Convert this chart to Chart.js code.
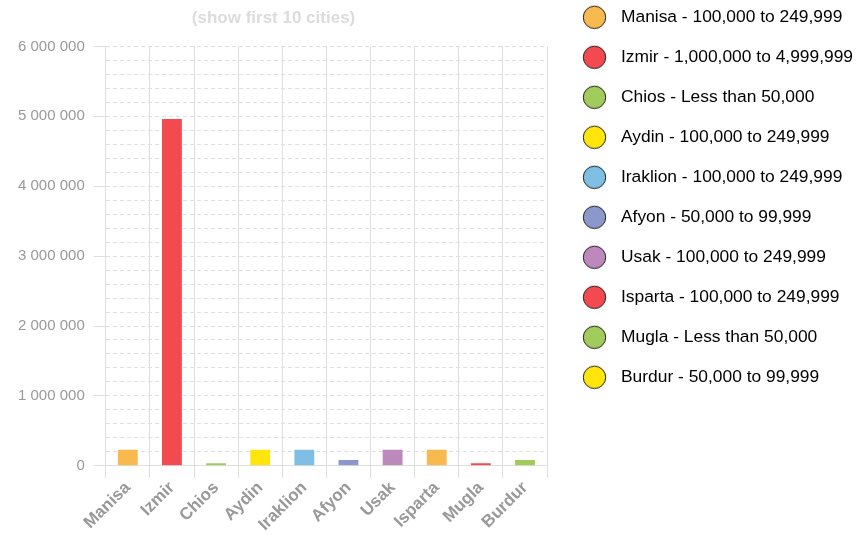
<!DOCTYPE html>
<html>
<head>
<meta charset="utf-8">
<script src="https://cdn.jsdelivr.net/npm/chart.js@4.4.0/dist/chart.umd.min.js"></script>
<style>
    html, body { margin: 0; padding: 0; background: #fff; }
    #wrap { width: 865px; height: 535px; }
</style>
</head>
<body>
<div id="wrap"><canvas id="myChart"></canvas></div>
<script>
// data
const cities = ['Manisa', 'Izmir', 'Chios', 'Aydin', 'Iraklion', 'Afyon', 'Usak', 'Isparta', 'Mugla', 'Burdur'];
const population = [230000, 4960000, 35000, 230000, 230000, 85000, 230000, 230000, 35000, 85000];
const sizeClass = ['100,000 to 249,999', '1,000,000 to 4,999,999', 'Less than 50,000', '100,000 to 249,999',
    '100,000 to 249,999', '50,000 to 99,999', '100,000 to 249,999', '100,000 to 249,999',
    'Less than 50,000', '50,000 to 99,999'];
const yTicks = [0, 1000000, 2000000, 3000000, 4000000, 5000000, 6000000];

const barColors = ['#F8B94F', '#F24A4F', '#9FCC5A', '#FFE50B', '#7EBFE3', '#8B98CB', '#BD88BC', '#F8B94F', '#F24A4F', '#9FCC5A'];
const legendColors = ['#F8B94F', '#F24A4F', '#9FCC5A', '#FFE50B', '#7EBFE3', '#8B98CB', '#BD88BC', '#F24A4F', '#9FCC5A', '#FFE50B'];

Chart.defaults.font.family = "'Liberation Sans', Arial, Helvetica, sans-serif";

function spaced(v) {
    return String(v).replace(/\B(?=(\d{3})+(?!\d))/g, ' ');
}

// little round markers for the legend
function circleImage(color) {
    const c = document.createElement('canvas');
    c.width = 25;
    c.height = 25;
    const g = c.getContext('2d');
    g.beginPath();
    g.arc(12.5, 12.5, 11.2, 0, Math.PI * 2);
    g.fillStyle = color;
    g.fill();
    g.lineWidth = 1;
    g.strokeStyle = '#222';
    g.stroke();
    return c;
}

function isMajor(value) {
    return yTicks.indexOf(value) !== -1;
}

// title is centred over everything left of the plot's right edge
const titleSpan = {
    id: 'titleSpan',
    afterLayout: function (chart) {
        const t = chart.titleBlock;
        t.left = 0;
        t.right = chart.chartArea.right;
        t.width = t.right - t.left;
    }
};

const ctx = document.getElementById('myChart');
const myChart = new Chart(ctx, {
    type: 'bar',
    data: {
        labels: cities,
        datasets: [{
            label: 'Population',
            data: population,
            backgroundColor: barColors,
            borderWidth: 0,
            barPercentage: 0.9,
            categoryPercentage: 0.5
        }]
    },
    options: {
        responsive: true,
        maintainAspectRatio: false,
        animation: false,
        layout: {
            autoPadding: false,
            padding: { top: -14, left: 9, right: 2, bottom: 0 }
        },
        plugins: {
            title: {
                display: true,
                text: '(show first 10 cities)',
                color: '#dcdcdc',
                fullSize: false,
                font: { size: 17, weight: 'bold' },
                padding: { top: 22, bottom: 18 }
            },
            legend: {
                position: 'right',
                align: 'start',
                maxWidth: 400,
                labels: {
                    usePointStyle: true,
                    pointStyleWidth: 35.6,
                    padding: 22.6,
                    color: '#333',
                    font: { size: 17.4 },
                    generateLabels: function (chart) {
                        return cities.map(function (name, i) {
                            return {
                                text: name + ' - ' + sizeClass[i],
                                pointStyle: circleImage(legendColors[i]),
                                fillStyle: legendColors[i],
                                strokeStyle: '#222',
                                lineWidth: 1,
                                hidden: false,
                                index: i
                            };
                        });
                    }
                },
                onClick: function () {}
            },
            tooltip: { enabled: false }
        },
        scales: {
            x: {
                grid: {
                    color: '#dedede',
                    tickColor: '#dedede',
                    tickLength: 12,
                    offset: true
                },
                border: { color: '#dedede' },
                ticks: {
                    color: '#999',
                    font: { size: 17, weight: 'bold' },
                    minRotation: 45,
                    maxRotation: 45,
                    autoSkip: false,
                    padding: 0
                }
            },
            y: {
                min: 0,
                max: 6000000,
                grid: {
                    color: '#e0e0e0',
                    tickLength: 12,
                    tickColor: function (c) {
                        return isMajor(c.tick.value) ? '#dedede' : 'rgba(0,0,0,0)';
                    }
                },
                border: { color: '#dedede', dash: [4, 3] },
                ticks: {
                    stepSize: 200000,
                    color: '#999',
                    font: { size: 15 },
                    padding: 9,
                    autoSkip: false,
                    callback: function (value) {
                        return isMajor(value) ? spaced(value) : '';
                    }
                }
            },
            // empty spacer between the plot and the legend
            gap: {
                type: 'linear',
                position: 'right',
                display: true,
                grid: { display: false },
                border: { display: false },
                ticks: { display: false },
                afterFit: function (scale) {
                    scale.width = 7;
                }
            }
        }
    },
    plugins: [titleSpan]
});
</script>
</body>
</html>
